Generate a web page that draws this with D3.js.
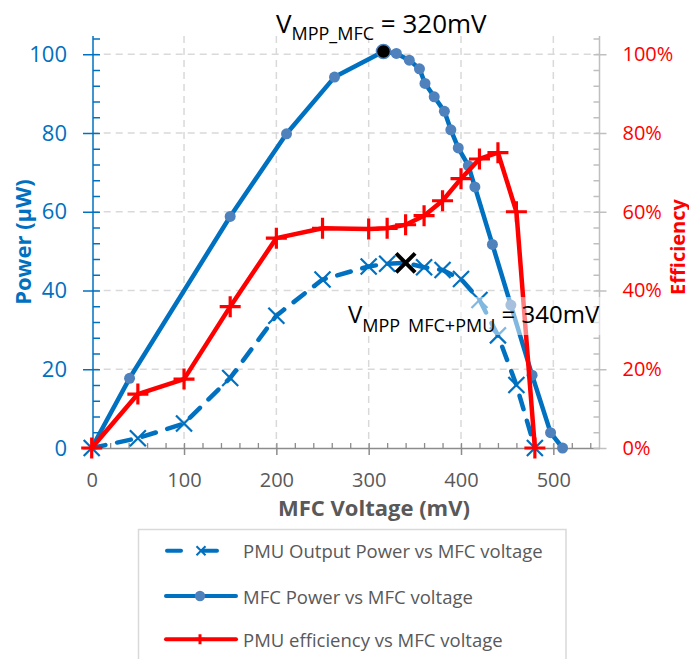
<html lang="en">
<head>
<meta charset="UTF-8">
<title>MFC / PMU power</title>
<style>
  body { margin: 0; background: #fff; }
  svg text { font-family: 'Open Sans', 'DejaVu Sans', sans-serif; }
  .grid line { stroke: #d9d9d9; stroke-width: 1.5; stroke-dasharray: 7,5; }
</style>
</head>
<body>
<div id="chart"></div>
<script src="https://d3js.org/d3.v7.min.js"></script>
<script>
// ---- data ----
var mfcVoltage = [0, 41, 150, 211, 263, 316, 330, 344, 355, 361, 371, 382, 389, 397, 408, 415, 434, 454, 477, 497, 510];
var mfcPower   = [0, 17.7, 58.8, 79.8, 94.2, 100.7, 100.2, 98.5, 96.3, 92.6, 89.2, 85.5, 80.8, 76.2, 71.7, 66.3, 51.7, 36.3, 18.5, 3.9, 0];

var pmuVoltage = [0, 50, 100, 150, 200, 250, 300, 320, 340, 360, 380, 400, 420, 440, 460, 480];
var pmuPower   = [0, 2.5, 6.2, 17.8, 33.6, 42.8, 46.1, 46.8, 47, 45.9, 45.2, 42.9, 37.6, 28.6, 16, 0];
var pmuEff     = [0, 13.7, 17.5, 35.9, 53.3, 55.8, 55.6, 55.8, 56.7, 59, 62.8, 68.4, 73.4, 75, 60, 0];

var mppMfc = [316, 100.7];
var mppSystem = [340, 47];

var xTicks = [0, 100, 200, 300, 400, 500];
var yTicks = [0, 20, 40, 60, 80, 100];
var effTicks = [0, 20, 40, 60, 80, 100];

var legendLabels = ["PMU Output Power vs MFC voltage", "MFC Power vs MFC voltage", "PMU efficiency vs MFC voltage"];

var BLUE = "#0070c0", DOT = "#4f81bd", RED = "#ff0000", GREY = "#595959";

var width = 689, height = 659;
var svg = d3.select("#chart").append("svg")
  .attr("width", width).attr("height", height);

var x = d3.scaleLinear().domain([0, 550]).range([91.7, 599.5]);
var y = d3.scaleLinear().domain([0, 104]).range([448, 38.5]);
var yR = d3.scaleLinear().domain([0, 104]).range([448, 38.5]);

var minorX = d3.range(0, 551, 20);
var minorY = d3.range(0, 105, 4);

// gridlines
var grid = svg.append("g").attr("class", "grid");
grid.selectAll(".gh").data(yTicks.slice(1)).join("line")
  .attr("x1", x(0)).attr("x2", x(550)).attr("y1", d => y(d)).attr("y2", d => y(d));
grid.selectAll(".gv").data(xTicks.slice(1)).join("line")
  .attr("y1", 36).attr("y2", y(0)).attr("x1", d => x(d)).attr("x2", d => x(d));

// bottom axis
var xAx = svg.append("g").attr("transform", "translate(0," + y(0) + ")");
xAx.call(d3.axisBottom(x).tickValues(xTicks).tickSize(7).tickPadding(18).tickSizeOuter(0));
xAx.select(".domain").attr("stroke", "#8c8c8c").attr("stroke-width", 1.5);
xAx.selectAll(".tick line").attr("stroke", "#8c8c8c").attr("stroke-width", 1.5);
xAx.selectAll("text").attr("fill", GREY).style("font-size", "20px");
var xIn = svg.append("g").attr("transform", "translate(0," + y(0) + ")");
xIn.call(d3.axisTop(x).tickValues(minorX).tickSize(5).tickFormat("").tickSizeOuter(0));
xIn.select(".domain").remove();
xIn.selectAll(".tick line").attr("stroke", "#8c8c8c").attr("stroke-width", 1.3);

// left axis
var yAx = svg.append("g").attr("transform", "translate(93,0)");
yAx.call(d3.axisLeft(y).tickValues(yTicks).tickSize(10).tickPadding(16).tickSizeOuter(0));
yAx.select(".domain").remove();
yAx.selectAll(".tick line").attr("stroke", BLUE).attr("stroke-width", 1.5);
yAx.selectAll("text").attr("fill", BLUE).style("font-size", "22px");
var yIn = svg.append("g").attr("transform", "translate(93,0)");
yIn.call(d3.axisRight(y).tickValues(minorY).tickSize(7).tickFormat("").tickSizeOuter(0));
yIn.select(".domain").remove();
yIn.selectAll(".tick line").attr("stroke", BLUE).attr("stroke-width", 1.5);
svg.append("line").attr("x1", 93).attr("x2", 93).attr("y1", 36).attr("y2", y(0))
  .attr("stroke", BLUE).attr("stroke-width", 1.5);

// right axis
var rAx = svg.append("g").attr("transform", "translate(" + x(550) + ",0)");
rAx.call(d3.axisRight(yR).tickValues(effTicks).tickSize(7).tickPadding(16).tickSizeOuter(0)
  .tickFormat(d => d + "%"));
rAx.select(".domain").remove();
rAx.selectAll(".tick line").attr("stroke", "#bfbfbf").attr("stroke-width", 1.5);
rAx.selectAll("text").attr("fill", RED).style("font-size", "20px");
var rIn = svg.append("g").attr("transform", "translate(" + x(550) + ",0)");
rIn.call(d3.axisLeft(yR).tickValues(minorY).tickSize(6).tickFormat("").tickSizeOuter(0));
rIn.select(".domain").remove();
rIn.selectAll(".tick line").attr("stroke", "#bfbfbf").attr("stroke-width", 1.5);
svg.append("line").attr("x1", x(550)).attr("x2", x(550)).attr("y1", 36).attr("y2", y(0))
  .attr("stroke", "#bfbfbf").attr("stroke-width", 1.5);

// axis titles
svg.append("text").attr("x", 374).attr("y", 516).attr("text-anchor", "middle")
  .attr("fill", GREY).style("font-size", "22px").style("font-weight", "bold")
  .text("MFC Voltage (mV)");
svg.append("text").attr("transform", "translate(22,242) rotate(-90)")
  .attr("text-anchor", "middle").attr("dominant-baseline", "central")
  .attr("fill", BLUE).style("font-size", "22px").style("font-weight", "bold")
  .text("Power (µW)");
svg.append("text").attr("transform", "translate(677,247) rotate(-90)")
  .attr("text-anchor", "middle").attr("dominant-baseline", "central")
  .attr("fill", RED).style("font-size", "20px").style("font-weight", "bold")
  .text("Efficiency");

// series
var pmuData = pmuVoltage.map((v, i) => [v, pmuPower[i]]);
var mfcData = mfcVoltage.map((v, i) => [v, mfcPower[i]]);
var effData = pmuVoltage.map((v, i) => [v, pmuEff[i]]);

var line = d3.line().x(d => x(d[0])).y(d => y(d[1]));
var lineR = d3.line().x(d => x(d[0])).y(d => yR(d[1]));

function crossPath(s) { return "M" + (-s) + "," + (-s) + "L" + s + "," + s + "M" + (-s) + "," + s + "L" + s + "," + (-s); }
function plusPath(s) { return "M" + (-s) + ",0L" + s + ",0M0," + (-s) + "L0," + s; }

// PMU output power (dashed, x markers)
svg.append("path").datum(pmuData).attr("d", line)
  .attr("fill", "none").attr("stroke", BLUE).attr("stroke-width", 4.5)
  .attr("stroke-dasharray", "14,12").attr("stroke-linecap", "round");
svg.selectAll(".xm").data(pmuData).join("path")
  .attr("transform", d => "translate(" + x(d[0]) + "," + y(d[1]) + ")")
  .attr("d", crossPath(8)).attr("stroke", BLUE).attr("stroke-width", 2.2).attr("fill", "none");

// MFC power (solid, dots)
svg.append("path").datum(mfcData).attr("d", line)
  .attr("fill", "none").attr("stroke", BLUE).attr("stroke-width", 4.5).attr("stroke-linejoin", "round");
svg.selectAll(".dm").data(mfcData.slice(1)).join("circle")
  .attr("cx", d => x(d[0])).attr("cy", d => y(d[1])).attr("r", 5.5).attr("fill", DOT);

// PMU efficiency (red, + markers)
svg.append("path").datum(effData).attr("d", lineR)
  .attr("fill", "none").attr("stroke", RED).attr("stroke-width", 4.5).attr("stroke-linejoin", "round");
svg.selectAll(".pm").data(effData).join("path")
  .attr("transform", d => "translate(" + x(d[0]) + "," + yR(d[1]) + ")")
  .attr("d", plusPath(10.5)).attr("stroke", RED).attr("stroke-width", 3.2).attr("fill", "none");

// highlighted maximum power points
svg.append("circle").attr("cx", x(mppMfc[0])).attr("cy", y(mppMfc[1])).attr("r", 7)
  .attr("fill", "#000").attr("stroke", DOT).attr("stroke-width", 1.5);
svg.append("path").attr("transform", "translate(" + x(mppSystem[0]) + "," + y(mppSystem[1]) + ")")
  .attr("d", crossPath(9.5)).attr("stroke", "#000").attr("stroke-width", 4);

// annotations
var noteTop = svg.append("text").attr("x", 276).attr("y", 33).attr("fill", "#000");
noteTop.append("tspan").style("font-size", "26px").text("V");
noteTop.append("tspan").attr("dy", 7).style("font-size", "18px").text("MPP_MFC");
noteTop.append("tspan").attr("dy", -7).style("font-size", "26px").text(" = 320mV");

svg.append("defs").append("clipPath").attr("id", "boxclip")
  .append("rect").attr("x", 345).attr("y", 297).attr("width", 268).attr("height", 36);
svg.append("rect").attr("x", 345).attr("y", 297).attr("width", 268).attr("height", 38)
  .attr("fill", "#fff").attr("fill-opacity", 0.5);
var noteBot = svg.append("text").attr("x", 348).attr("y", 323).attr("fill", "#000")
  .attr("clip-path", "url(#boxclip)");
noteBot.append("tspan").style("font-size", "24px").text("V");
noteBot.append("tspan").attr("dy", 9).style("font-size", "18px").text("MPP_MFC+PMU");
noteBot.append("tspan").attr("dy", -9).style("font-size", "24px").text(" = 340mV");

// legend
svg.append("rect").attr("x", 138.5).attr("y", 529.5).attr("width", 427.5).attr("height", 140)
  .attr("fill", "#fff").attr("stroke", "#d9d9d9").attr("stroke-width", 1.5);
var rows = [550.7, 596, 639.3];
var lg = svg.append("g");
// row 1: dashed + cross
lg.append("line").attr("x1", 167).attr("x2", 236).attr("y1", rows[0]).attr("y2", rows[0])
  .attr("stroke", BLUE).attr("stroke-width", 4).attr("stroke-dasharray", "14,22").attr("stroke-linecap", "round");
lg.append("path").attr("transform", "translate(201," + rows[0] + ")").attr("d", crossPath(4.5))
  .attr("stroke", BLUE).attr("stroke-width", 2);
// row 2: solid + dot
lg.append("line").attr("x1", 166).attr("x2", 236).attr("y1", rows[1]).attr("y2", rows[1])
  .attr("stroke", BLUE).attr("stroke-width", 4).attr("stroke-linecap", "round");
lg.append("circle").attr("cx", 200).attr("cy", rows[1]).attr("r", 5.2).attr("fill", DOT);
// row 3: red + plus
lg.append("line").attr("x1", 166).attr("x2", 236).attr("y1", rows[2]).attr("y2", rows[2])
  .attr("stroke", RED).attr("stroke-width", 4).attr("stroke-linecap", "round");
lg.append("path").attr("transform", "translate(200," + rows[2] + ")").attr("d", plusPath(5))
  .attr("stroke", RED).attr("stroke-width", 3);
lg.selectAll(".lt").data(legendLabels).join("text")
  .attr("x", 243).attr("y", (d, i) => rows[i]).attr("dominant-baseline", "central")
  .attr("fill", GREY).style("font-size", "18.5px").text(d => d);
</script>
</body>
</html>
